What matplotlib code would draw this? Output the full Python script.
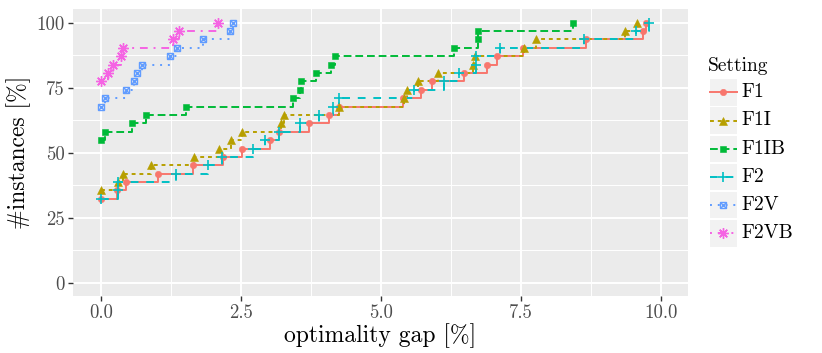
import matplotlib
matplotlib.use("Agg")
import matplotlib.pyplot as plt
from matplotlib.ticker import FixedLocator

plt.rcParams['font.family'] = ['cmr10', 'DejaVu Serif']
plt.rcParams['mathtext.fontset'] = 'cm'
plt.rcParams['axes.formatter.use_mathtext'] = True
plt.rcParams['axes.unicode_minus'] = False

# ---------------- data ----------------
settings = ["F1", "F1I", "F1IB", "F2", "F2V", "F2VB"]

f1_x = [0.0, 0.29, 0.46, 1.03, 1.64, 2.18, 2.52, 3.02, 3.18, 3.72, 4.08, 4.26,
        5.39, 5.72, 5.91, 6.49, 6.90, 7.08, 7.54, 8.66, 9.69, 9.73]
f1_y = [32.26, 35.48, 38.71, 41.94, 45.16, 48.39, 51.61, 54.84, 58.06, 61.29, 64.52,
        67.74, 70.97, 74.19, 77.42, 80.65, 83.87, 87.10, 90.32, 93.55, 96.77, 100.0]

f1i_x = [0.0, 0.30, 0.40, 0.90, 1.67, 2.12, 2.32, 2.53, 3.22, 3.27, 4.26, 5.42,
         5.46, 5.67, 6.02, 6.64, 6.68, 7.55, 7.77, 9.36, 9.58]
f1i_y = [35.48, 38.71, 41.94, 45.16, 48.39, 51.61, 54.84, 58.06, 61.29, 64.52, 67.74,
         70.97, 74.19, 77.42, 80.65, 83.87, 87.10, 90.32, 93.55, 96.77, 100.0]

f1ib_x = [0.0, 0.08, 0.56, 0.80, 1.52, 3.43, 3.56, 3.58, 3.84, 4.11, 4.18, 6.31,
          6.74, 6.74, 8.43]
f1ib_y = [54.84, 58.06, 61.29, 64.52, 67.74, 70.97, 74.19, 77.42, 80.65, 83.87, 87.10,
          90.32, 93.55, 96.77, 100.0]

f2_x = [0.0, 0.31, 0.31, 1.34, 1.92, 2.17, 2.72, 2.93, 3.18, 3.55, 3.90, 4.14,
        4.26, 5.59, 6.13, 6.39, 6.70, 6.70, 7.13, 8.62, 9.56, 9.78]
f2_y = [32.26, 35.48, 38.71, 41.94, 45.16, 48.39, 51.61, 54.84, 58.06, 61.29, 64.52,
        67.74, 70.97, 74.19, 77.42, 80.65, 83.87, 87.10, 90.32, 93.55, 96.77, 100.0]

f2v_x = [0.0, 0.08, 0.46, 0.59, 0.65, 0.73, 1.24, 1.36, 1.82, 2.31, 2.37]
f2v_y = [67.74, 70.97, 74.19, 77.42, 80.65, 83.87, 87.10, 90.32, 93.55, 96.77, 100.0]

f2vb_x = [0.0, 0.125, 0.225, 0.36, 0.40, 1.29, 1.40, 2.09]
f2vb_y = [77.42, 80.65, 83.87, 87.10, 90.32, 93.55, 96.77, 100.0]

x_ticks = [0.0, 2.5, 5.0, 7.5, 10.0]
x_tick_labels = ["0.0", "2.5", "5.0", "7.5", "10.0"]
y_ticks = [0, 25, 50, 75, 100]
y_tick_labels = ["0", "25", "50", "75", "100"]

# ---------------- styles ----------------
colors = ["#F8766D", "#B79F00", "#00BA38", "#00BFC4", "#619CFF", "#F564E3"]
lw = 1.4
linestyles = ["-", (0, (2, 2)), (0, (4, 2)), (0, (4, 4)), (0, (1, 3)), (0, (1, 3, 4, 3))]
series = [(f1_x, f1_y), (f1i_x, f1i_y), (f1ib_x, f1ib_y), (f2_x, f2_y),
          (f2v_x, f2v_y), (f2vb_x, f2vb_y)]


def draw_marker(ax, x, y, i, col, scale=1.0, z=4):
    if i == 0:
        ax.plot(x, y, ls="none", marker="o", ms=4.6 * scale, mfc=col, mec=col, mew=0.4, zorder=z)
    elif i == 1:
        ax.plot(x, y, ls="none", marker="^", ms=5.8 * scale, mfc=col, mec=col, mew=0.4, zorder=z)
    elif i == 2:
        ax.plot(x, y, ls="none", marker="s", ms=4.8 * scale, mfc=col, mec=col, mew=0.4, zorder=z)
    elif i == 3:
        ax.plot(x, y, ls="none", marker="+", ms=7.4 * scale, mec=col, mew=1.2, zorder=z)
    elif i == 4:
        ax.plot(x, y, ls="none", marker="s", ms=4.9 * scale, mfc="none", mec=col, mew=1.0, zorder=z)
        ax.plot(x, y, ls="none", marker="x", ms=4.2 * scale, mec=col, mew=1.0, zorder=z)
    else:
        ax.plot(x, y, ls="none", marker=(8, 2, 0), ms=7.6 * scale, mec=col, mew=1.0, zorder=z)


fig = plt.figure(figsize=(8.22, 3.53), dpi=100)
ax = fig.add_axes([72.7 / 822, (353 - 296) / 353, (688.3 - 72.7) / 822, (296 - 9.3) / 353])
ax.set_facecolor("#EBEBEB")
for s in ax.spines.values():
    s.set_visible(False)

ax.set_xlim(-0.5, 10.49)
ax.set_ylim(-5.1, 105.15)
ax.xaxis.set_major_locator(FixedLocator(x_ticks))
ax.set_xticklabels(x_tick_labels)
ax.yaxis.set_major_locator(FixedLocator(y_ticks))
ax.set_yticklabels(y_tick_labels)
ax.xaxis.set_minor_locator(FixedLocator([1.25, 3.75, 6.25, 8.75]))
ax.yaxis.set_minor_locator(FixedLocator([12.5, 37.5, 62.5, 87.5]))
ax.grid(which="major", color="white", lw=1.4)
ax.grid(which="minor", color="white", lw=0.7)
ax.set_axisbelow(True)
ax.tick_params(which="major", length=3.5, width=1.0, color="#333333", labelcolor="#4D4D4D",
               labelsize=13.5, pad=2)
ax.tick_params(which="minor", length=0)

for i, (xs, ys) in enumerate(series):
    ax.step(xs, ys, where="post", color=colors[i], lw=lw, ls=linestyles[i], zorder=3)
    draw_marker(ax, xs, ys, i, colors[i])

ax.set_xlabel("optimality gap [%]", fontsize=17, labelpad=1)
ax.set_ylabel("#instances [%]", fontsize=17, labelpad=4)

# ---------------- legend ----------------
lax = fig.add_axes([0, 0, 1, 1])
lax.set_xlim(0, 822)
lax.set_ylim(353, 0)
lax.axis("off")
lax.patch.set_visible(False)
lax.text(708, 66, "Setting", fontsize=14, va="center", ha="left", color="black")
for i, name in enumerate(settings):
    cy = 92.3 + i * 28.2
    lax.add_patch(plt.Rectangle((710, cy - 13.2), 26.7, 26.4, facecolor="#F2F2F2",
                                edgecolor="none", zorder=1))
    lax.plot([710, 736.7], [cy, cy], color=colors[i], lw=lw, ls=linestyles[i], zorder=2)
    draw_marker(lax, [723.35], [cy], i, colors[i], z=3)
    lax.text(741, cy, name, fontsize=14.3, va="center", ha="left", color="black")

fig.savefig("out.png", dpi=100)
